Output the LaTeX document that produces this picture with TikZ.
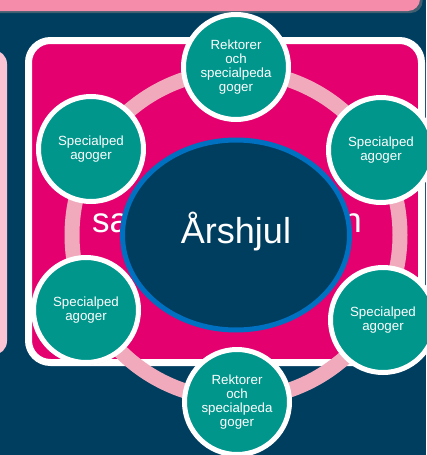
\documentclass[tikz,border=0pt]{standalone}
\usepackage{fontspec}
\setmainfont{Liberation Sans}
\usetikzlibrary{shapes.geometric,shadows}
\definecolor{navy}{RGB}{0,62,96}
\definecolor{mag}{RGB}{228,0,110}
\definecolor{ringpink}{RGB}{240,170,188}
\definecolor{circteal}{RGB}{0,150,140}
\definecolor{ellblue}{RGB}{0,112,192}
\definecolor{toppink}{RGB}{245,140,170}
\definecolor{sidepink}{RGB}{250,196,212}

\begin{document}
\begin{tikzpicture}[x=1pt,y=-1pt,
  grp/.style={circle, draw=white, line width=5pt, fill=circteal, text=white,
    minimum size=105pt, inner sep=0pt, align=center,
    font=\fontsize{13.3}{14}\selectfont,
    drop shadow={opacity=0.35, shadow xshift=1pt, shadow yshift=-2pt}},
  hub/.style={ellipse, draw=ellblue, line width=5pt, fill=navy, text=white,
    minimum width=227pt, minimum height=190pt, font=\fontsize{36}{40}\selectfont},
  bigtxt/.style={text=white, inner sep=0pt, font=\fontsize{35}{40}\selectfont}]
\useasboundingbox (0,0) rectangle (426,455);
\fill[navy] (0,0) rectangle (426,455);

% panels behind the wheel
\fill[toppink, rounded corners=12pt, drop shadow={opacity=0.5, shadow yshift=-2pt}] (-20,-20) rectangle (420,11);
\fill[sidepink, rounded corners=14pt] (-20,50) rectangle (7,355);
\draw[white, line width=7pt, fill=mag, rounded corners=22pt,
  drop shadow={opacity=0.4, shadow yshift=-3pt}] (28.5,40.5) rectangle (421.5,362.5);
\node[bigtxt, anchor=base west] (T1) at (92,232) {sa};
\node[bigtxt, anchor=base east] (T2) at (362,232) {n};

% wheel
\draw[ringpink, line width=15pt] (236,235) circle[radius=164pt];
\node[hub] (H) at (236,235) {};
\node[text=white, font=\fontsize{36}{40}\selectfont] (A) at (236,232) {Årshjul};

\node[grp] (C1) at (236,67)  {Rektorer\\och\\specialpeda\\goger};
\node[grp] (C2) at (381,150) {Specialped\\agoger};
\node[grp] (C3) at (383,320) {Specialped\\agoger};
\node[grp] (C4) at (237,402) {Rektorer\\och\\specialpeda\\goger};
\node[grp] (C5) at (86,310)  {Specialped\\agoger};
\node[grp] (C6) at (91,149)  {Specialped\\agoger};
\end{tikzpicture}
\end{document}
